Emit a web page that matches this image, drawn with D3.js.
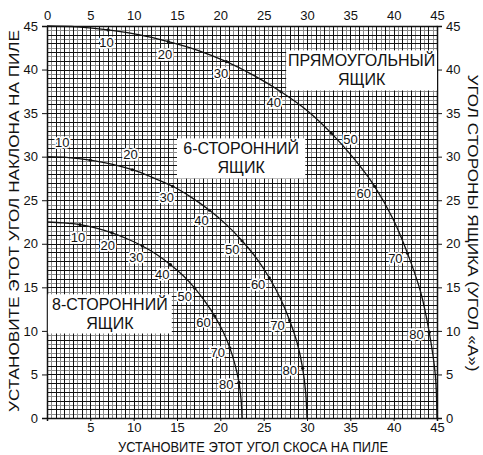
<!DOCTYPE html>
<html>
<head>
<meta charset="utf-8">
<script src="https://cdn.jsdelivr.net/npm/d3@7"></script>
<style>
  body { margin: 0; background: #fff; }
  svg { font-family: "Liberation Sans", Arial, sans-serif; }
</style>
</head>
<body>
<div id="chart"></div>
<script>
// side angle of the box (angle "A"), every 5 degrees
var sideAngles = [0, 5, 10, 15, 20, 25, 30, 35, 40, 45, 50, 55, 60, 65, 70, 75, 80, 85, 90];

// rectangular box: bevel (x) and tilt (y)
var rectBevel = [0, 3.5, 7.05, 10.55, 14.0, 17.4, 20.7, 23.9, 27.0, 30.0, 32.8, 35.4, 37.8, 39.9, 41.6, 43.1, 44.1, 44.8, 45];
var rectTilt = [45, 44.9, 44.55, 44.0, 43.2, 42.2, 40.9, 39.3, 37.45, 35.3, 32.7, 29.8, 26.6, 22.9, 18.9, 14.5, 9.85, 5.0, 0];

// 6-sided box
var hexBevel = [0, 2.5, 5.0, 7.45, 9.85, 12.2, 14.5, 16.7, 18.75, 20.7, 22.5, 24.2, 25.65, 26.95, 28.0, 28.9, 29.5, 29.85, 30];
var hexTilt = [30, 29.9, 29.6, 29.15, 28.5, 27.6, 26.6, 25.3, 23.85, 22.2, 20.35, 18.3, 16.1, 13.7, 11.2, 8.5, 5.7, 2.9, 0];

// 8-sided box
var octBevel = [0, 1.9, 3.8, 5.7, 7.5, 9.3, 11.0, 12.7, 14.25, 15.7, 17.05, 18.25, 19.35, 20.3, 21.1, 21.7, 22.15, 22.4, 22.5];
var octTilt = [22.5, 22.4, 22.2, 21.8, 21.25, 20.55, 19.75, 18.75, 17.6, 16.35, 14.9, 13.35, 11.7, 9.95, 8.05, 6.1, 4.1, 2.05, 0];

var labelAngles = [10, 20, 30, 40, 50, 60, 70, 80];
var axisTicks = [0, 5, 10, 15, 20, 25, 30, 35, 40, 45];

var boxNames = [["ПРЯМОУГОЛЬНЫЙ", "ЯЩИК"], ["6-СТОРОННИЙ", "ЯЩИК"], ["8-СТОРОННИЙ", "ЯЩИК"]];

var xTitle = "УСТАНОВИТЕ ЭТОТ УГОЛ СКОСА НА ПИЛЕ";
var yTitle = "УСТАНОВИТЕ ЭТОТ УГОЛ НАКЛОНА НА ПИЛЕ";
var y2Title = "УГОЛ СТОРОНЫ ЯЩИКА (УГОЛ «А»)";

var width = 483, height = 455;
var margin = {top: 26, right: 46, bottom: 37, left: 47};

var svg = d3.select("#chart").append("svg")
  .attr("width", width)
  .attr("height", height);

var x = d3.scaleLinear().domain([0, 45]).range([margin.left, width - margin.right]);
var y = d3.scaleLinear().domain([0, 45]).range([height - margin.bottom, margin.top]);

// grid: light lines every half degree, dark every degree
var g = svg.append("g").attr("class", "grid");
var minor = d3.range(0.5, 45, 1);
var major = d3.range(1, 45, 1);

g.selectAll(".vminor").data(minor).enter().append("line")
  .attr("x1", function(d) { return Math.round(x(d)) + 0.5; })
  .attr("x2", function(d) { return Math.round(x(d)) + 0.5; })
  .attr("y1", y(45)).attr("y2", y(0))
  .style("stroke", "#8a8a8a");
g.selectAll(".hminor").data(minor).enter().append("line")
  .attr("y1", function(d) { return Math.round(y(d)) + 0.5; })
  .attr("y2", function(d) { return Math.round(y(d)) + 0.5; })
  .attr("x1", x(0)).attr("x2", x(45))
  .style("stroke", "#8a8a8a");
g.selectAll(".vmajor").data(major).enter().append("line")
  .attr("x1", function(d) { return Math.round(x(d)) + 0.5; })
  .attr("x2", function(d) { return Math.round(x(d)) + 0.5; })
  .attr("y1", y(45)).attr("y2", y(0))
  .style("stroke", "#111");
g.selectAll(".hmajor").data(major).enter().append("line")
  .attr("y1", function(d) { return Math.round(y(d)) + 0.5; })
  .attr("y2", function(d) { return Math.round(y(d)) + 0.5; })
  .attr("x1", x(0)).attr("x2", x(45))
  .style("stroke", "#111");

// axes
var fmt = d3.format("d");
svg.append("g")
  .attr("transform", "translate(" + x(0) + ",0)")
  .call(d3.axisLeft(y).tickValues(axisTicks).tickFormat(fmt).tickSize(5).tickPadding(4));
svg.append("g")
  .attr("transform", "translate(" + x(45) + ",0)")
  .call(d3.axisRight(y).tickValues(axisTicks).tickFormat(fmt).tickSize(5).tickPadding(4));
svg.append("g")
  .attr("transform", "translate(0," + y(0) + ")")
  .call(d3.axisBottom(x).tickValues(axisTicks.slice(1)).tickFormat(fmt).tickSize(3).tickPadding(2));
svg.append("g")
  .attr("transform", "translate(0," + y(45) + ")")
  .call(d3.axisTop(x).tickValues(axisTicks).tickFormat(fmt).tickSize(0).tickPadding(6));

svg.selectAll(".tick text").style("font-size", "13px").style("fill", "#111");
svg.selectAll(".domain").style("stroke", "#111").style("stroke-width", 1.5);
svg.selectAll(".tick line").style("stroke", "#111");

// curves; side = which side of the curve each angle label sits on,
// nudge = small hand shifts (px) where the original label drifts off its point
var curves = [
  {bevel: rectBevel, tilt: rectTilt, side: [1, 1, 1, 1, -1, 1, 1, 1],
   nudge: {50: [10, 15]}},
  {bevel: hexBevel, tilt: hexTilt, side: [-1, -1, 1, 1, 1, 1, 1, 1],
   nudge: {10: [-30, -5], 20: [-6, -3]}},
  {bevel: octBevel, tilt: octTilt, side: [1, 1, 1, 1, 1, 1, 1, 1],
   nudge: {}}
];

var line = d3.line()
  .x(function(d) { return x(d[0]); })
  .y(function(d) { return y(d[1]); })
  .curve(d3.curveCatmullRom);

curves.forEach(function(c) {
  var pts = sideAngles.map(function(a, i) { return [c.bevel[i], c.tilt[i]]; });
  svg.append("path")
    .datum(pts)
    .attr("d", line)
    .style("fill", "none")
    .style("stroke", "#111")
    .style("stroke-width", 1.3);

  // small dots at the labelled angles
  labelAngles.forEach(function(a) {
    var i = sideAngles.indexOf(a);
    svg.append("circle")
      .attr("cx", x(c.bevel[i]))
      .attr("cy", y(c.tilt[i]))
      .attr("r", 1.6)
      .style("fill", "#111");
  });

  // angle labels, pushed off the curve
  labelAngles.forEach(function(a, k) {
    var i = sideAngles.indexOf(a);
    var px = x(c.bevel[i]), py = y(c.tilt[i]);
    var dx = x(c.bevel[i + 1]) - x(c.bevel[i - 1]);
    var dy = y(c.tilt[i + 1]) - y(c.tilt[i - 1]);
    var len = Math.sqrt(dx * dx + dy * dy);
    var nx = -dy / len, ny = dx / len;
    if (ny < 0) { nx = -nx; ny = -ny; }
    var off = 13 * c.side[k];
    var n = c.nudge[a] || [0, 0];
    svg.append("text")
      .attr("x", px + nx * off + n[0])
      .attr("y", py + ny * off + n[1])
      .attr("text-anchor", "middle")
      .attr("dy", "0.35em")
      .style("font-size", "13px")
      .style("fill", "#111")
      .style("stroke", "#fff")
      .style("stroke-width", 3.5)
      .style("paint-order", "stroke")
      .style("stroke-linejoin", "round")
      .text(a);
  });
});

// box name labels on white panels
var panels = [
  {x0: 27.6, x1: 45, y0: 37.6, y1: 42.2},
  {x0: 15.0, x1: 29.8, y0: 27.5, y1: 32.1},
  {x0: 0.1, x1: 14.4, y0: 9.7, y1: 14.2}
];
panels.forEach(function(p, k) {
  svg.append("rect")
    .attr("x", x(p.x0)).attr("y", y(p.y1))
    .attr("width", x(p.x1) - x(p.x0))
    .attr("height", y(p.y0) - y(p.y1))
    .style("fill", "#fff");
  var cx = (x(p.x0) + x(p.x1)) / 2;
  var t = svg.append("text")
    .attr("text-anchor", "middle")
    .style("font-size", "16px")
    .style("fill", "#111");
  boxNames[k].forEach(function(s, j) {
    t.append("tspan")
      .attr("x", cx)
      .attr("y", y(p.y1) + 16 + j * 19)
      .text(s);
  });
});

// axis titles
svg.append("text")
  .attr("x", 253)
  .attr("y", 452)
  .attr("text-anchor", "middle")
  .attr("textLength", 270)
  .attr("lengthAdjust", "spacingAndGlyphs")
  .style("font-size", "15px")
  .style("fill", "#111")
  .text(xTitle);

svg.append("text")
  .attr("transform", "translate(19,221) rotate(-90)")
  .attr("text-anchor", "middle")
  .attr("textLength", 382)
  .attr("lengthAdjust", "spacingAndGlyphs")
  .style("font-size", "15px")
  .style("fill", "#111")
  .text(yTitle);

svg.append("text")
  .attr("transform", "translate(468,223) rotate(90)")
  .attr("text-anchor", "middle")
  .attr("textLength", 297)
  .attr("lengthAdjust", "spacingAndGlyphs")
  .style("font-size", "15px")
  .style("fill", "#111")
  .text(y2Title);
</script>
</body>
</html>
